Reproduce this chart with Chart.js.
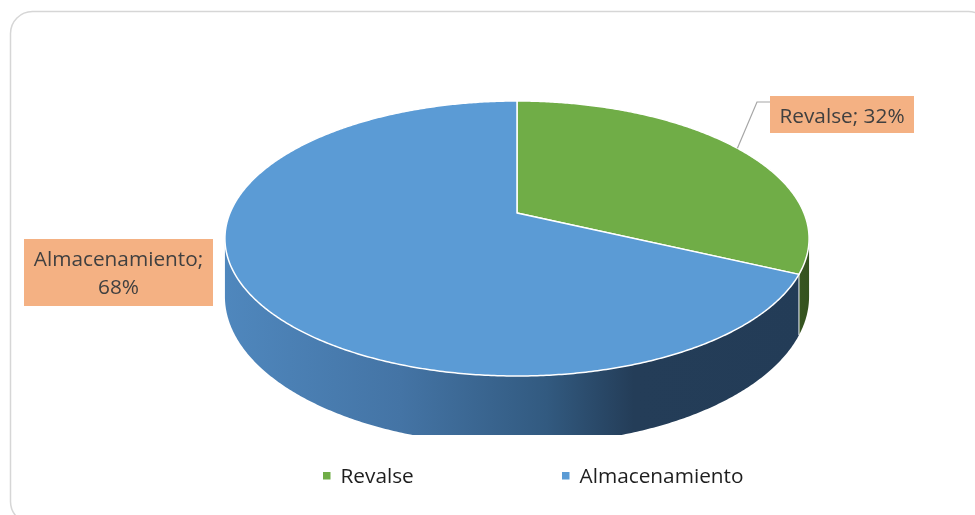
<!DOCTYPE html>
<html>
<head>
<meta charset="utf-8">
<script src="https://cdn.jsdelivr.net/npm/chart.js@4.4.1/dist/chart.umd.min.js"></script>
<style>
  html, body { margin: 0; padding: 0; background: #ffffff; }
  #wrap { width: 975px; height: 515px; }
</style>
</head>
<body>
<div id="wrap"><canvas id="pie" width="975" height="515"></canvas></div>
<script>
// Data
const categories = ['Revalse', 'Almacenamiento'];
const shares = [32, 68];

// Styles
const topColors = ['#70ad47', '#5b9bd5'];
const FONT = '"Open Sans", "Noto Sans", sans-serif';

// Tilted disc projection (perspective view of the pie plane)
const CX = 517, SX = 287, AY = 93.27, BY = 213, PERSP = -0.1855, DEPTH = 56;
const CLIP_BOTTOM = 435;

function proj(theta, level) {
  const u = Math.cos(theta), v = Math.sin(theta), w = 1 + PERSP * v;
  return [CX + SX * u / w, (AY * v + BY + level * DEPTH) / w];
}

function wallFill(ctx, index) {
  if (index === 0) {
    const g = ctx.createLinearGradient(760, 0, 810, 0);
    g.addColorStop(0, '#3f6127');
    g.addColorStop(1, '#34521f');
    return g;
  }
  const g = ctx.createLinearGradient(225, 0, 809, 0);
  g.addColorStop(0.00, '#4f87bd');
  g.addColorStop(0.30, '#4474a5');
  g.addColorStop(0.55, '#325a80');
  g.addColorStop(0.70, '#243d58');
  g.addColorStop(1.00, '#233c57');
  return g;
}

const pie3d = {
  id: 'pie3d',
  beforeDraw(chart) {
    const ctx = chart.ctx;
    ctx.save();
    ctx.fillStyle = '#ffffff';
    ctx.fillRect(0, 0, chart.width, chart.height);
    ctx.strokeStyle = '#d6d6d6';
    ctx.lineWidth = 1.5;
    ctx.beginPath();
    ctx.roundRect(10.5, 11.5, 980, 512, 22);
    ctx.stroke();
    ctx.restore();
  },
  beforeDatasetsDraw() {
    return false;
  },
  afterDraw(chart) {
    const ctx = chart.ctx;
    const arcs = chart.getDatasetMeta(0).data;
    const step = Math.PI / 360;
    const frontStart = Math.asin(-PERSP);
    const frontEnd = Math.PI - frontStart;

    // Side walls
    ctx.save();
    ctx.beginPath();
    ctx.rect(0, 0, chart.width, CLIP_BOTTOM);
    ctx.clip();
    arcs.forEach((arc, i) => {
      const a = Math.max(arc.startAngle, frontStart);
      const b = Math.min(arc.endAngle, frontEnd);
      if (b <= a) return;
      ctx.beginPath();
      let p = proj(a, 0);
      ctx.moveTo(p[0], p[1]);
      for (let t = a; t < b; t += step) { p = proj(t, 0); ctx.lineTo(p[0], p[1]); }
      p = proj(b, 0); ctx.lineTo(p[0], p[1]);
      p = proj(b, 1); ctx.lineTo(p[0], p[1]);
      for (let t = b; t > a; t -= step) { p = proj(t, 1); ctx.lineTo(p[0], p[1]); }
      p = proj(a, 1); ctx.lineTo(p[0], p[1]);
      ctx.closePath();
      ctx.fillStyle = wallFill(ctx, i);
      ctx.fill();
    });
    // seams between walls
    arcs.forEach((arc) => {
      [arc.startAngle, arc.endAngle].forEach((t) => {
        if (t > frontStart && t < frontEnd) {
          const p0 = proj(t, 0), p1 = proj(t, 1);
          ctx.beginPath();
          ctx.moveTo(p0[0], p0[1]);
          ctx.lineTo(p1[0], p1[1]);
          ctx.strokeStyle = 'rgba(255,255,255,0.55)';
          ctx.lineWidth = 1;
          ctx.stroke();
        }
      });
    });
    ctx.restore();

    // Top faces
    ctx.save();
    arcs.forEach((arc, i) => {
      ctx.beginPath();
      ctx.moveTo(CX, BY);
      for (let t = arc.startAngle; t < arc.endAngle; t += step) {
        const p = proj(t, 0); ctx.lineTo(p[0], p[1]);
      }
      const pe = proj(arc.endAngle, 0); ctx.lineTo(pe[0], pe[1]);
      ctx.closePath();
      ctx.fillStyle = topColors[i];
      ctx.fill();
      ctx.strokeStyle = '#ffffff';
      ctx.lineWidth = 1.5;
      ctx.lineJoin = 'round';
      ctx.stroke();
    });
    ctx.restore();

    // Data labels
    ctx.save();
    const r = arcs[0];
    const mid = (r.startAngle + r.endAngle) / 2;
    const anchor = proj(mid, 0);
    ctx.strokeStyle = '#a6a6a6';
    ctx.lineWidth = 1.2;
    ctx.beginPath();
    ctx.moveTo(anchor[0], anchor[1]);
    ctx.lineTo(757, 102);
    ctx.lineTo(770, 102);
    ctx.stroke();

    ctx.fillStyle = '#f4b183';
    ctx.fillRect(770, 96, 144, 37);
    ctx.fillRect(24, 239, 189, 67);

    ctx.font = '20.8px ' + FONT;
    ctx.fillStyle = '#404040';
    ctx.textAlign = 'center';
    ctx.textBaseline = 'alphabetic';
    ctx.fillText(categories[0] + '; ' + shares[0] + '%', 842, 123);
    ctx.fillText(categories[1] + ';', 118.5, 265.5);
    ctx.fillText(shares[1] + '%', 118.5, 294);

    // Legend
    const legendX = [323, 562];
    ctx.textAlign = 'left';
    ctx.fillStyle = '#1e1e1e';
    categories.forEach((name, i) => {
      ctx.fillStyle = topColors[i];
      ctx.fillRect(legendX[i], 472, 7.5, 7.5);
      ctx.fillStyle = '#1e1e1e';
      ctx.fillText(name, legendX[i] + 17.5, 483);
    });
    ctx.restore();
  }
};

new Chart(document.getElementById('pie'), {
  type: 'pie',
  data: {
    labels: categories,
    datasets: [{ data: shares, backgroundColor: topColors, borderWidth: 0 }]
  },
  options: {
    responsive: false,
    animation: false,
    devicePixelRatio: 1,
    rotation: 0,
    plugins: { legend: { display: false }, tooltip: { enabled: false } }
  },
  plugins: [pie3d]
});
</script>
</body>
</html>
